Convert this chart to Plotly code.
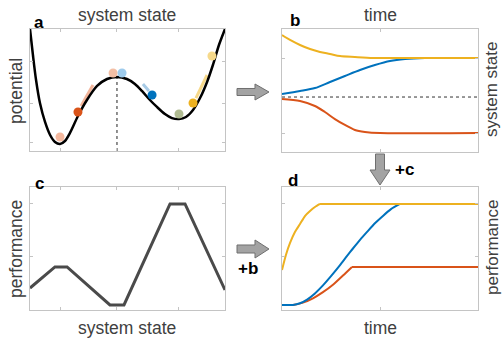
import plotly.graph_objects as go

W, H = 504, 342

# ---------- Panel a: potential landscape ----------
a_state = [0.00, 0.15, 0.31, 0.51, 0.77, 1.03, 1.28, 1.54, 1.79, 2.05, 2.46, 2.92, 3.44, 3.95, 4.46,
           4.97, 5.38, 5.74, 6.15, 6.51, 6.92, 7.28, 7.64, 8.00, 8.36, 8.72, 9.08, 9.38, 9.69, 10.00]
a_potential = [10.00, 7.87, 5.82, 3.93, 2.38, 1.31, 0.74, 0.57, 0.82, 1.48, 2.87, 4.18, 5.33, 5.90, 6.07,
               5.90, 5.49, 4.92, 4.18, 3.61, 3.03, 2.70, 2.62, 2.79, 3.36, 4.34, 5.66, 7.05, 8.69, 10.00]
dot_state = [1.54, 2.46, 4.26, 4.72, 6.26, 7.64, 8.36, 9.33]
dot_potential = [1.15, 3.20, 6.39, 6.39, 4.59, 3.03, 3.93, 7.79]
dot_colors = ["#f4b89e", "#d95319", "#f3bfa5", "#9ecbec", "#0072bd", "#b0bb92", "#edb120", "#f6d98b"]
trail_state = [[2.62, 3.23], [5.79, 6.10], [8.51, 9.08]]
trail_potential = [[3.69, 5.41], [5.49, 4.92], [4.34, 6.23]]
trail_colors = ["#f2b59b", "#a8cbe6", "#f7d98a"]
barrier_state = 4.46
barrier_top = 6.07
a_xticks = [1.54, 4.46, 7.64]
a_yticks = [0.66, 3.93, 7.30]

# ---------- Panel b: system state vs time ----------
b_yellow_t = [0, 0.41, 0.92, 1.43, 1.94, 2.45, 2.96, 3.72, 4.64, 6.02, 10]
b_yellow_s = [9.51, 9.11, 8.70, 8.37, 8.13, 7.97, 7.80, 7.72, 7.64, 7.64, 7.64]
b_blue_t = [0, 0.92, 1.68, 2.45, 3.21, 3.98, 4.74, 5.51, 6.28, 7.30, 10]
b_blue_s = [4.72, 4.96, 5.20, 5.69, 6.18, 6.67, 7.07, 7.40, 7.56, 7.64, 7.64]
b_red_t = [0, 0.92, 1.68, 2.19, 2.70, 3.21, 3.72, 4.23, 5.00, 10]
b_red_s = [4.31, 4.15, 3.74, 3.25, 2.68, 2.20, 1.79, 1.63, 1.54, 1.54]
b_threshold = 4.47
b_xticks = [5.0]
b_yticks = [1.54, 7.64]

# ---------- Panel c: performance vs system state ----------
c_state = [0, 1.28, 1.90, 4.10, 4.82, 7.18, 7.95, 10]
c_perf = [1.79, 3.50, 3.50, 0.41, 0.41, 8.62, 8.62, 1.63]
c_xticks = [1.54, 4.46, 7.64]
c_yticks = [4.31, 8.62]

# ---------- Panel d: performance vs time ----------
d_yellow_t = [0, 0.20, 0.41, 0.66, 0.92, 1.17, 1.43, 1.68, 1.94, 10]
d_yellow_p = [3.25, 4.47, 5.45, 6.34, 6.99, 7.64, 8.05, 8.37, 8.62, 8.62]
d_blue_t = [0, 0.56, 0.92, 1.28, 1.68, 2.09, 2.50, 2.96, 3.32, 3.62, 3.98, 4.34, 4.74, 5.15, 5.56, 6.02, 10]
d_blue_p = [0.41, 0.41, 0.55, 0.85, 1.35, 2.00, 2.75, 3.65, 4.40, 5.00, 5.70, 6.35, 7.05, 7.65, 8.20, 8.62, 8.62]
d_red_t = [0, 0.56, 1.07, 1.58, 2.09, 2.60, 3.11, 3.57, 10]
d_red_p = [0.41, 0.41, 0.60, 0.95, 1.45, 2.05, 2.80, 3.50, 3.50]
d_xticks = [5.0]
d_yticks = [4.31, 8.62]

BLUE, RED, YEL = "#0072bd", "#d95319", "#edb120"

fig = go.Figure()

def px_x(p):
    return p / W

def px_y(p):
    return 1 - p / H

# panel frames (pixels): left, right, top, bottom
frames = {
    "a": (30, 225, 29, 151),
    "b": (282, 478, 29, 152),
    "c": (30, 225, 187, 310),
    "d": (282, 478, 187, 310),
}
axis_names = {"a": ("xaxis", "yaxis", "x", "y"),
              "b": ("xaxis2", "yaxis2", "x2", "y2"),
              "c": ("xaxis3", "yaxis3", "x3", "y3"),
              "d": ("xaxis4", "yaxis4", "x4", "y4")}
ticks = {"a": (a_xticks, a_yticks), "b": (b_xticks, b_yticks),
         "c": (c_xticks, c_yticks), "d": (d_xticks, d_yticks)}

layout_axes = {}
for k, (l, r, t, b) in frames.items():
    xa, ya, xr, yr = axis_names[k]
    xt, yt = ticks[k]
    common = dict(showgrid=False, zeroline=False, showline=True, linecolor="#c4c4c4",
                  linewidth=1, mirror="ticks", ticks="inside", ticklen=3, tickcolor="#c4c4c4",
                  showticklabels=False, fixedrange=True)
    layout_axes[xa] = dict(domain=[px_x(l), px_x(r)], range=[0, 10], tickvals=xt,
                           anchor=yr, **common)
    layout_axes[ya] = dict(domain=[px_y(b), px_y(t)], range=[0, 10], tickvals=yt,
                           anchor=xr, **common)

# panel a traces
fig.add_trace(go.Scatter(x=[barrier_state, barrier_state], y=[0, barrier_top], mode="lines",
                         line=dict(color="#222222", width=1, dash="dot"), xaxis="x", yaxis="y"))
for ts, tp, tc in zip(trail_state, trail_potential, trail_colors):
    fig.add_trace(go.Scatter(x=ts, y=tp, mode="lines", line=dict(color=tc, width=3),
                             xaxis="x", yaxis="y"))
fig.add_trace(go.Scatter(x=a_state, y=a_potential, mode="lines",
                         line=dict(color="black", width=2.5, shape="spline", smoothing=0.8),
                         xaxis="x", yaxis="y"))
fig.add_trace(go.Scatter(x=dot_state, y=dot_potential, mode="markers",
                         marker=dict(color=dot_colors, size=9, line=dict(width=0)),
                         xaxis="x", yaxis="y"))

# panel b traces
fig.add_trace(go.Scatter(x=[0, 10], y=[b_threshold, b_threshold], mode="lines",
                         line=dict(color="#333333", width=1, dash="dot"), xaxis="x2", yaxis="y2"))
for tt, ss, cc in [(b_red_t, b_red_s, RED), (b_blue_t, b_blue_s, BLUE), (b_yellow_t, b_yellow_s, YEL)]:
    fig.add_trace(go.Scatter(x=tt, y=ss, mode="lines",
                             line=dict(color=cc, width=2, shape="spline", smoothing=0.8),
                             xaxis="x2", yaxis="y2"))

# panel c
fig.add_trace(go.Scatter(x=c_state, y=c_perf, mode="lines",
                         line=dict(color="#4a4a4a", width=3), xaxis="x3", yaxis="y3"))

# panel d: smooth rising part + flat saturated part (sharp corner)
for tt, pp, cc in [(d_red_t, d_red_p, RED), (d_blue_t, d_blue_p, BLUE), (d_yellow_t, d_yellow_p, YEL)]:
    k = len(tt) - 2  # index of the corner where the curve saturates
    fig.add_trace(go.Scatter(x=tt[:k + 1], y=pp[:k + 1], mode="lines",
                             line=dict(color=cc, width=2, shape="spline", smoothing=0.6),
                             xaxis="x4", yaxis="y4"))
    fig.add_trace(go.Scatter(x=tt[k:], y=pp[k:], mode="lines",
                             line=dict(color=cc, width=2),
                             xaxis="x4", yaxis="y4"))

# text
FONT = "Liberation Sans, Arial, sans-serif"
TXT = "#404040"
anns = []
def add_text(text, x, y, size=17.5, color=TXT, bold=False, angle=0):
    anns.append(dict(text=f"<b>{text}</b>" if bold else text, x=px_x(x), y=px_y(y),
                     xref="paper", yref="paper", showarrow=False, xanchor="center", yanchor="middle",
                     textangle=angle, font=dict(family=FONT, size=size, color=color)))

add_text("system state", 127, 15)
add_text("potential", 16, 91, angle=-90)
add_text("time", 380, 15)
add_text("system state", 492, 90, size=17, angle=-90)
add_text("performance", 16, 249, angle=-90)
add_text("system state", 127, 328)
add_text("time", 380, 328)
add_text("performance", 492, 248, size=17, angle=-90)
add_text("a", 39, 22, size=17, color="black", bold=True)
add_text("b", 295, 21, size=17, color="black", bold=True)
add_text("c", 39, 183, size=17, color="black", bold=True)
add_text("d", 293, 180, size=17, color="black", bold=True)
add_text("+c", 404, 170, size=17, color="black", bold=True)
add_text("+b", 248, 268, size=17, color="black", bold=True)

# block arrows (decorations)
def poly(points):
    return "M " + " L ".join(f"{px_x(x):.5f},{px_y(y):.5f}" for x, y in points) + " Z"

def right_arrow(x0, x1, x2, yc, bh, hh):
    return poly([(x0, yc - bh), (x1, yc - bh), (x1, yc - hh), (x2, yc), (x1, yc + hh),
                 (x1, yc + bh), (x0, yc + bh)])

def down_arrow(xc, y0, y1, y2, bw, hw):
    return poly([(xc - bw, y0), (xc + bw, y0), (xc + bw, y1), (xc + hw, y1), (xc, y2),
                 (xc - hw, y1), (xc - bw, y1)])

shapes = []
for path in [right_arrow(237, 255, 269, 92, 3.5, 8), right_arrow(237, 255, 269, 249, 4, 9),
             down_arrow(380, 154, 170, 185, 4.5, 10)]:
    shapes.append(dict(type="path", path=path, xref="paper", yref="paper",
                       fillcolor="#a3a3a3", line=dict(color="#6f6f6f", width=1)))

fig.update_layout(width=W, height=H, margin=dict(l=0, r=0, t=0, b=0),
                  paper_bgcolor="white", plot_bgcolor="white", showlegend=False,
                  annotations=anns, shapes=shapes, **layout_axes)

fig.write_html("out.html", post_script="document.body.style.margin='0px';",
               config={"displayModeBar": False})
